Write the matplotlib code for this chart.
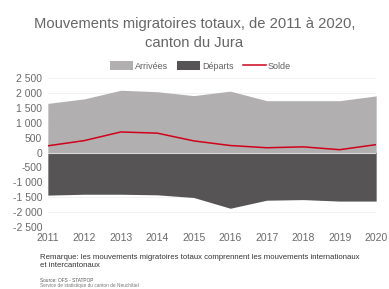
import matplotlib
matplotlib.use("Agg")
import matplotlib.pyplot as plt
import numpy as np

years = [2011, 2012, 2013, 2014, 2015, 2016, 2017, 2018, 2019, 2020]
arrivees = [1650, 1800, 2090, 2040, 1910, 2060, 1740, 1740, 1740, 1900]
departs = [-1430, -1400, -1400, -1420, -1510, -1870, -1600, -1580, -1630, -1630]
solde = [225, 400, 690, 650, 390, 235, 160, 190, 95, 265]
yticks = [2500, 2000, 1500, 1000, 500, 0, -500, -1000, -1500, -2000, -2500]

plt.rcParams['font.family'] = ['Liberation Sans', 'DejaVu Sans']

fig = plt.figure(figsize=(3.89, 2.89), dpi=100)
ax = fig.add_axes([0.123, 0.2145, 0.844, 0.5155])

c_arr = '#b1afb0'
c_dep = '#565455'
c_sol = '#d0021b'

ax.fill_between(years, 0, arrivees, color=c_arr, lw=0, label='Arrivées')
ax.fill_between(years, 0, departs, color=c_dep, lw=0, label='Départs')
ax.axhline(0, color='#d8d8d8', lw=0.8)
ax.plot(years, solde, color=c_sol, lw=1.1, label='Solde')

ax.set_xlim(2011, 2020)
ax.set_ylim(-2500, 2500)
ax.set_xticks(years)
ax.set_yticks(yticks)
ax.set_yticklabels([('%d' % v) if abs(v) < 1000 else ('-' if v < 0 else '') + '%d %03d' % (abs(v) // 1000, abs(v) % 1000) for v in yticks])
ax.tick_params(length=0, labelsize=7.5, colors='#6a6a6a', pad=4)
ax.tick_params(axis='x', pad=4)
for s in ax.spines.values():
    s.set_visible(False)
ax.grid(axis='y', color='#f0f0f0', lw=0.6)
ax.set_axisbelow(True)

leg = fig.legend(loc='center', bbox_to_anchor=(0.515, 0.772), ncol=3, frameon=False,
                 fontsize=6.5, handlelength=2.6, handleheight=1.2, columnspacing=1.0,
                 handletextpad=0.2)
for t in leg.get_texts():
    t.set_color('#606060')

fig.text(0.5, 0.884, 'Mouvements migratoires totaux, de 2011 à 2020,\ncanton du Jura',
         ha='center', va='center', fontsize=10.6, color='#666666', linespacing=1.4)

fig.text(0.103, 0.068, 'Remarque: les mouvements migratoires totaux comprennent les mouvements internationaux\net intercantonaux',
         ha='left', va='bottom', fontsize=5.6, color='#333333', linespacing=1.3)
fig.text(0.103, 0.022, 'Source: OFS - STATPOP', ha='left', va='bottom', fontsize=3.4, color='#555555')
fig.text(0.103, 0.002, 'Service de statistique du canton de Neuchâtel', ha='left', va='bottom', fontsize=3.4, color='#777777')

fig.savefig('out.png', dpi=100)
